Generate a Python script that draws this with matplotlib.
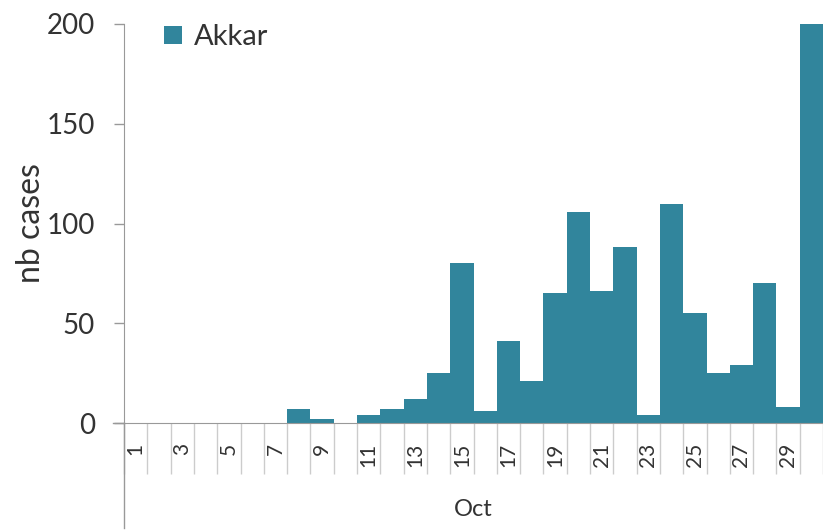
import numpy as np
import matplotlib
matplotlib.use("Agg")
import matplotlib.pyplot as plt

# --- Data ---
days = list(range(1, 31))
cases = [0, 0, 0, 0, 0, 0, 0, 7, 2, 0,
         4, 7, 12, 25, 80, 6, 41, 21, 65, 106,
         66, 88, 4, 110, 55, 25, 29, 70, 8, 200]
series_name = "Akkar"
month_label = "Oct"
y_ticks = [0, 50, 100, 150, 200]

bar_color = "#31859C"
axis_color = "#999999"
text_color = "#333333"

plt.rcParams['font.family'] = ['Lato', 'DejaVu Sans']

fig = plt.figure(figsize=(8.23, 5.31), dpi=100)
ax = fig.add_axes([124 / 823, 1 - 423 / 531, 1 - 124 / 823, (423 - 24) / 531])

x = np.arange(len(days))
ax.bar(x, cases, width=1.0, color=bar_color, label=series_name)

ax.set_xlim(-0.5, len(days) - 0.5)
ax.set_ylim(0, 200)

# y axis
ax.set_yticks(y_ticks)
ax.set_yticklabels([str(v) for v in y_ticks], fontsize=20, color=text_color)
ax.tick_params(axis='y', length=7, width=1, color=axis_color, pad=14)
ax.set_ylabel("nb cases", fontsize=23, color=text_color)
ax.yaxis.set_label_coords(-0.112, 0.50)

# x axis: labels on odd days, separators between categories
odd = [i for i, d in enumerate(days) if d % 2 == 1]
ax.set_xticks(odd)
ax.set_xticklabels([str(days[i]) for i in odd], rotation=90, fontsize=15,
                   color=text_color)
ax.set_xticks(np.arange(-0.5, len(days) + 0.5, 1), minor=True)
ax.tick_params(axis='x', which='major', length=0, pad=14)
ax.tick_params(axis='x', which='minor', length=37, width=1, color="#cccccc")
ax.set_xlabel(month_label, fontsize=17, color=text_color)
ax.xaxis.set_label_coords(0.5, -0.19)

for s in ['top', 'right']:
    ax.spines[s].set_visible(False)
ax.spines['bottom'].set_color(axis_color)
ax.spines['left'].set_color(axis_color)

# left spine continues down through the category label area
ax.plot([0, 0], [0, -0.262], transform=ax.transAxes, color=axis_color,
        lw=1, clip_on=False)
ax.plot([-0.016, 0], [0, 0], transform=ax.transAxes, color=axis_color,
        lw=1, clip_on=False)

leg = ax.legend(loc='upper left', bbox_to_anchor=(0.02, 1.065), frameon=False,
                fontsize=21, handlelength=0.62, handleheight=0.62,
                handletextpad=0.4)
for t in leg.get_texts():
    t.set_color(text_color)

fig.savefig("out.png", dpi=100)
